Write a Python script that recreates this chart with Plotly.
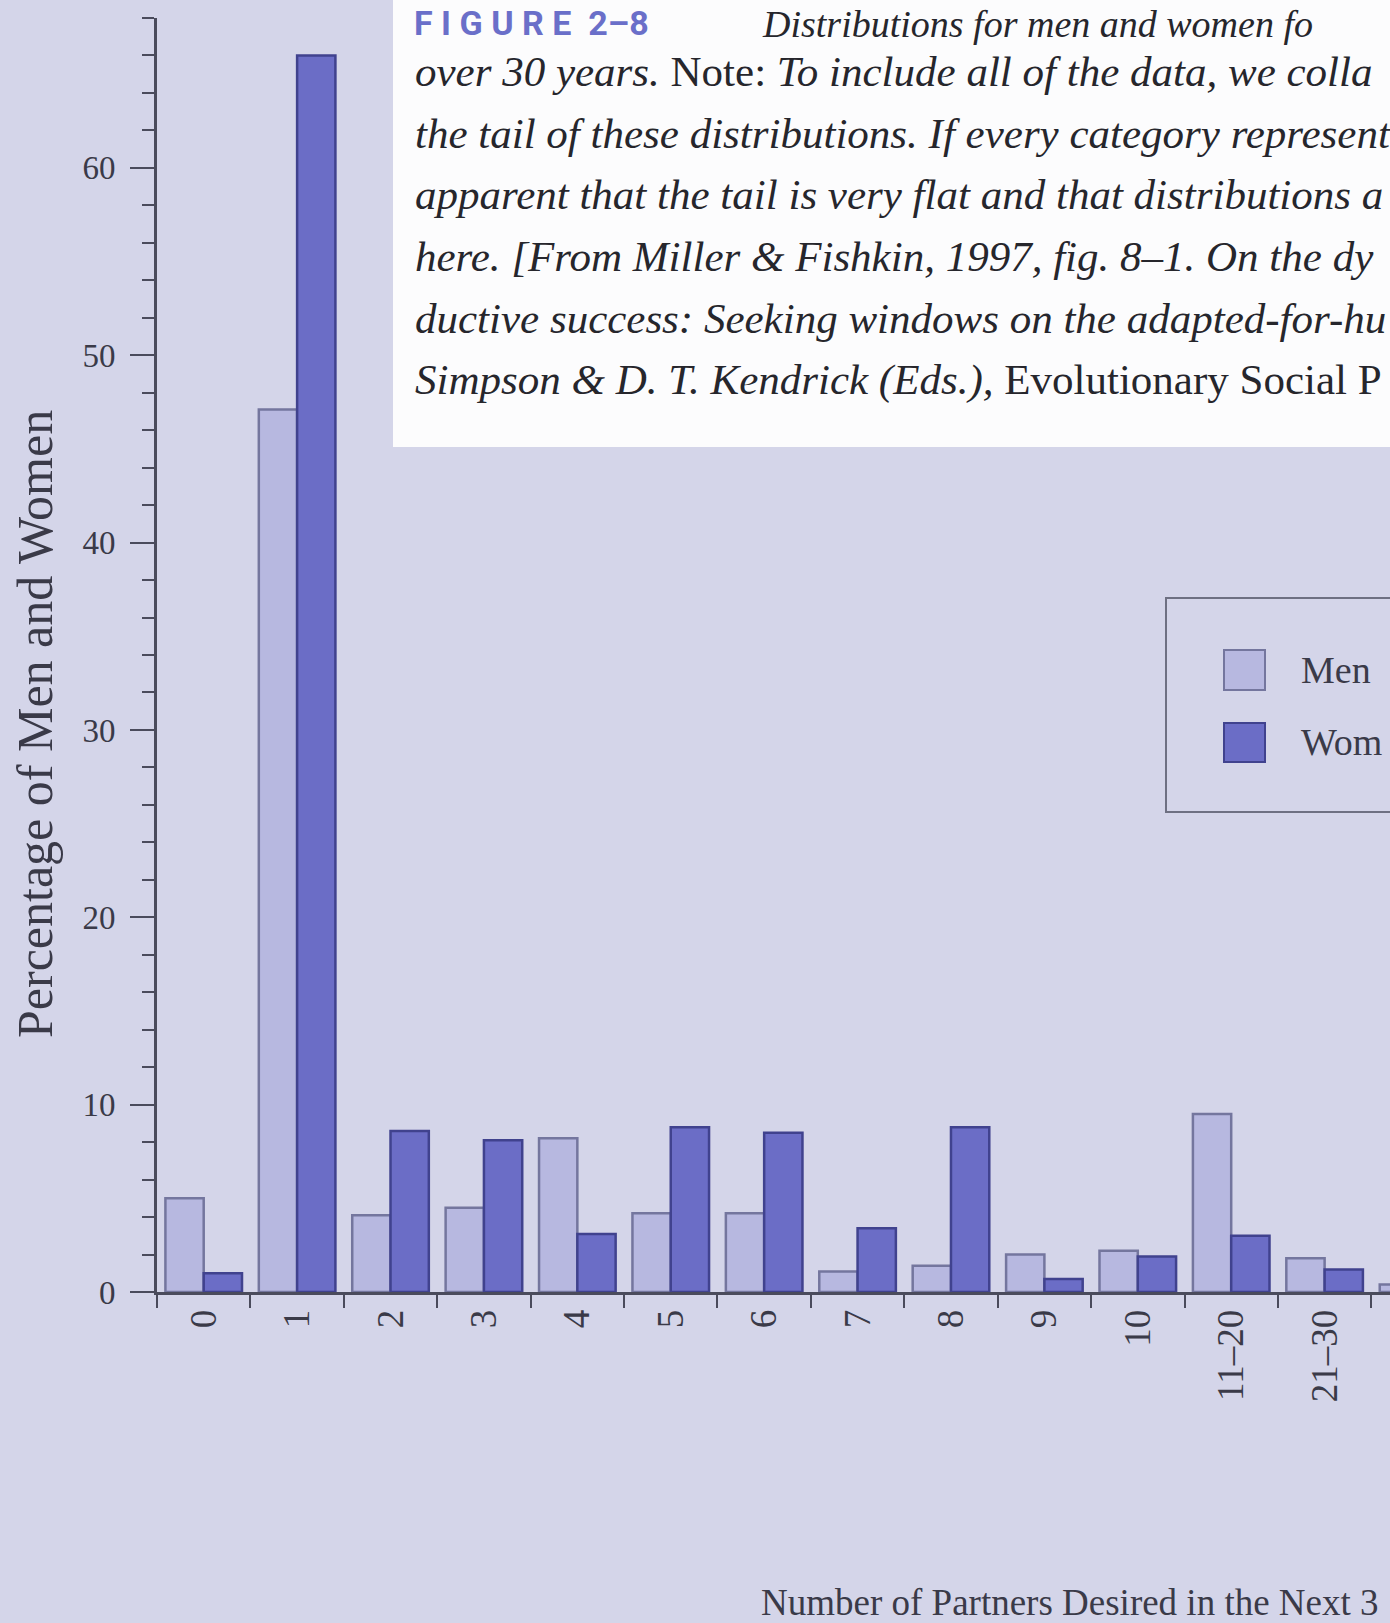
import plotly.graph_objects as go

# ---- data ----
categories = ["0", "1", "2", "3", "4", "5", "6", "7", "8", "9", "10", "11–20", "21–30", "31–40"]
men_pct = [5.0, 47.1, 4.1, 4.5, 8.2, 4.2, 4.2, 1.1, 1.4, 2.0, 2.2, 9.5, 1.8, 0.4]
women_pct = [1.0, 66.0, 8.6, 8.1, 3.1, 8.8, 8.5, 3.4, 8.8, 0.7, 1.9, 3.0, 1.2, 0.3]
series_names = ["Men %", "Women %"]
legend_visible = ["Men", "Wom"]          # the page is cropped: only this much is visible

# caption of the (cropped) book page, as far as it is visible
caption_head = "F I G U R E  2–8"
caption_first = "<i>Distributions for men and women fo</i>"
caption_lines = [
    "<i>over 30 years.</i> Note: <i>To include all of the data, we colla</i>",
    "<i>the tail of these distributions. If every category represent</i>",
    "<i>apparent that the tail is very flat and that distributions a</i>",
    "<i>here. [From Miller &amp; Fishkin, 1997, fig. 8–1. On the dy</i>",
    "<i>ductive success: Seeking windows on the adapted-for-hu</i>",
    "<i>Simpson &amp; D. T. Kendrick (Eds.),</i> Evolutionary Social P",
]
x_title = "Number of Partners Desired in the Next 3"
y_title = "Percentage of Men and Women"

# ---- layout geometry (pixels) ----
W, H = 1390, 1623
ML, MR, MT, MB = 157, 0, 18, 331
PW = W - ML - MR
PH = H - MT - MB


def px(x):
    return (x - ML) / PW


def py(y):
    return (H - MB - y) / PH


BG = "#d4d5e9"
MEN_FILL, MEN_EDGE = "#b7b8e0", "#74769e"
WOM_FILL, WOM_EDGE = "#6b6dc6", "#40428e"
AX = "#4a4b5c"
TXT = "#3a3a48"
CAP = "#26262c"
SERIF = "Liberation Serif, Times New Roman, serif"

fig = go.Figure()
fig.add_trace(go.Bar(x=categories, y=men_pct, name=series_names[0],
                     marker=dict(color=MEN_FILL, line=dict(color=MEN_EDGE, width=2.5))))
fig.add_trace(go.Bar(x=categories, y=women_pct, name=series_names[1],
                     marker=dict(color=WOM_FILL, line=dict(color=WOM_EDGE, width=2.5))))

fig.update_layout(
    width=W, height=H,
    margin=dict(l=ML, r=MR, t=MT, b=MB, pad=0),
    paper_bgcolor=BG, plot_bgcolor=BG,
    barmode="group", bargap=0.18, bargroupgap=0,
    showlegend=False,
    font=dict(family=SERIF, color=TXT),
    xaxis=dict(type="category", range=[-0.5, 12.7], showline=True, linecolor=AX, linewidth=3,
               ticks="outside", tickson="boundaries", ticklen=13, tickwidth=2, tickcolor=AX,
               tickangle=-90, tickfont=dict(family=SERIF, size=37, color=TXT),
               showgrid=False, zeroline=False),
    yaxis=dict(range=[0, 68], dtick=10, tick0=0, showline=True, linecolor=AX, linewidth=3,
               ticks="outside", ticklen=24, tickwidth=2, tickcolor=AX, ticklabelstandoff=8,
               minor=dict(dtick=2, tick0=0, ticks="outside", ticklen=12, tickwidth=2, tickcolor=AX),
               tickfont=dict(family=SERIF, size=33, color=TXT),
               showgrid=False, zeroline=False),
)

shapes = []
annotations = []

# axis titles
annotations.append(dict(text=y_title, xref="paper", yref="paper",
                        x=px(35), y=py(724), xanchor="center", yanchor="middle", textangle=-90,
                        showarrow=False, font=dict(family=SERIF, size=50, color=TXT)))
annotations.append(dict(text=x_title, xref="paper", yref="paper",
                        x=px(759), y=py(1602), xanchor="left", yanchor="middle",
                        showarrow=False, font=dict(family=SERIF, size=37, color=TXT)))

# caption box (pasted page)
shapes.append(dict(type="rect", xref="paper", yref="paper", x0=px(393), x1=px(1420),
                   y0=py(447), y1=py(-20), fillcolor="#fcfcfd", line=dict(width=0), layer="above"))
annotations.append(dict(text=caption_head, xref="paper", yref="paper", x=px(412), y=py(1),
                        xanchor="left", yanchor="top", showarrow=False,
                        font=dict(family="Roboto", size=34, color="#6a6fc9", weight="bold")))
annotations.append(dict(text=caption_first, xref="paper", yref="paper", x=px(760), y=py(1),
                        xanchor="left", yanchor="top", showarrow=False,
                        font=dict(family=SERIF, size=38, color=CAP)))
for i, line in enumerate(caption_lines):
    base = 85 + 61.5 * i
    annotations.append(dict(text=line, xref="paper", yref="paper", x=px(413), y=py(base - 13),
                            xanchor="left", yanchor="middle", showarrow=False,
                            font=dict(family=SERIF, size=43, color=CAP)))

# legend drawn as in the reference (cropped by the page edge)
shapes.append(dict(type="rect", xref="paper", yref="paper", x0=px(1166), x1=px(1420),
                   y0=py(812), y1=py(598), fillcolor="rgba(0,0,0,0)",
                   line=dict(color="#6e7082", width=2)))
sw = [(MEN_FILL, MEN_EDGE, 650, 690, 670), (WOM_FILL, WOM_EDGE, 723, 762, 742)]
for (fc, ec, t, b, c), name in zip(sw, legend_visible):
    shapes.append(dict(type="rect", xref="paper", yref="paper", x0=px(1224), x1=px(1265),
                       y0=py(b), y1=py(t), fillcolor=fc, line=dict(color=ec, width=2)))
    annotations.append(dict(text=name, xref="paper", yref="paper", x=px(1299), y=py(c),
                            xanchor="left", yanchor="middle", showarrow=False,
                            font=dict(family=SERIF, size=38, color=TXT)))

fig.update_layout(shapes=shapes, annotations=annotations)

fig.write_html("out.html", config={"displayModeBar": False},
               post_script="document.body.style.margin='0px';document.body.style.overflow='hidden';")
